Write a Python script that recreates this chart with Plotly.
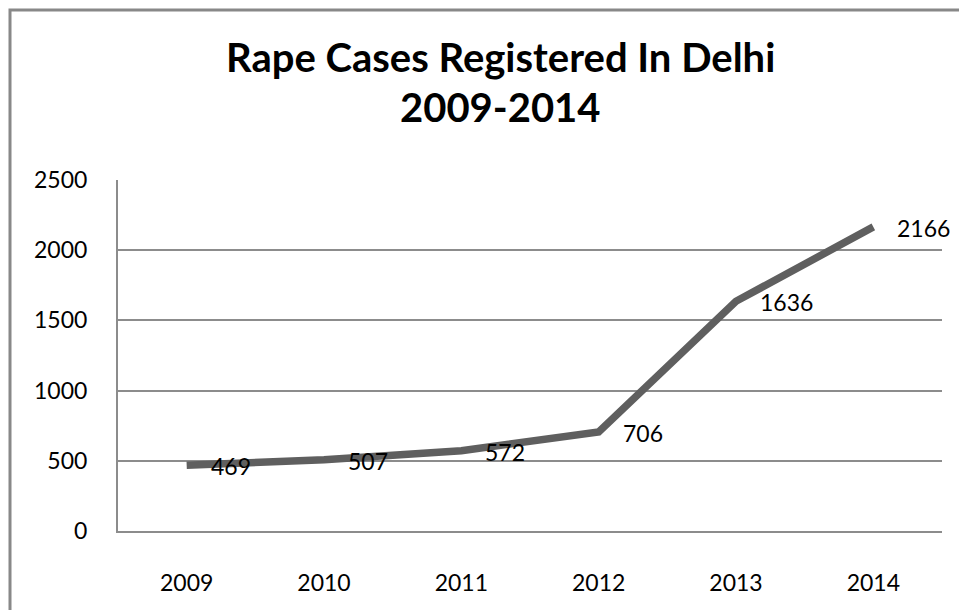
import plotly.graph_objects as go

years = ["2009", "2010", "2011", "2012", "2013", "2014"]
cases = [469, 507, 572, 706, 1636, 2166]
title_lines = ["Rape Cases Registered In Delhi", "2009-2014"]
y_ticks = [0, 500, 1000, 1500, 2000, 2500]

FONT = "Lato"
W, H = 959, 610
L, R, T, B = 118, 17, 180, 79
pw, ph = W - L - R, H - T - B

fig = go.Figure()
fig.add_trace(go.Scatter(
    x=years, y=cases, mode="lines",
    line=dict(color="#5f5f5f", width=7.5),
    hoverinfo="x+y", showlegend=False,
))

annotations = []
for i, v in enumerate(cases):
    annotations.append(dict(
        x=i, y=v, xref="x", yref="y", text=str(v), showarrow=False,
        xanchor="left", yanchor="middle", xshift=22, yshift=-1,
        font=dict(family=FONT, size=23, color="#000000"),
    ))
for line, ypx in zip(title_lines, [57, 107]):
    annotations.append(dict(
        x=(500 - L) / pw, y=(H - B - ypx) / ph, xref="paper", yref="paper",
        text="<b>%s</b>" % line, showarrow=False, xanchor="center", yanchor="middle",
        font=dict(family=FONT, size=40, color="#000000"),
    ))

# outer chart border
fig.add_shape(type="rect", xref="paper", yref="paper",
              x0=(10 - L) / pw, x1=(1010 - L) / pw,
              y0=(H - B - 660) / ph, y1=(H - B - 10) / ph,
              line=dict(color="#888888", width=3), fillcolor="rgba(0,0,0,0)", layer="below")

fig.update_layout(
    width=W, height=H,
    margin=dict(l=L, r=R, t=T, b=B, pad=0),
    paper_bgcolor="white", plot_bgcolor="white",
    font=dict(family=FONT, size=23, color="#000000"),
    annotations=annotations,
    xaxis=dict(
        type="category", range=[-0.5, 5.5], showgrid=False,
        showline=True, linecolor="#8c8c8c", linewidth=2,
        ticks="", ticklabelstandoff=30,
        tickfont=dict(family=FONT, size=23, color="#000000"),
        fixedrange=True,
    ),
    yaxis=dict(
        range=[0, 2500], tickvals=y_ticks, ticktext=[str(t) for t in y_ticks],
        showgrid=True, gridcolor="#8c8c8c", gridwidth=1.5,
        showline=True, linecolor="#8c8c8c", linewidth=2,
        zeroline=False, ticks="", ticklabelstandoff=24,
        tickfont=dict(family=FONT, size=23, color="#000000"),
        fixedrange=True,
    ),
)

fig.write_html("out.html")
